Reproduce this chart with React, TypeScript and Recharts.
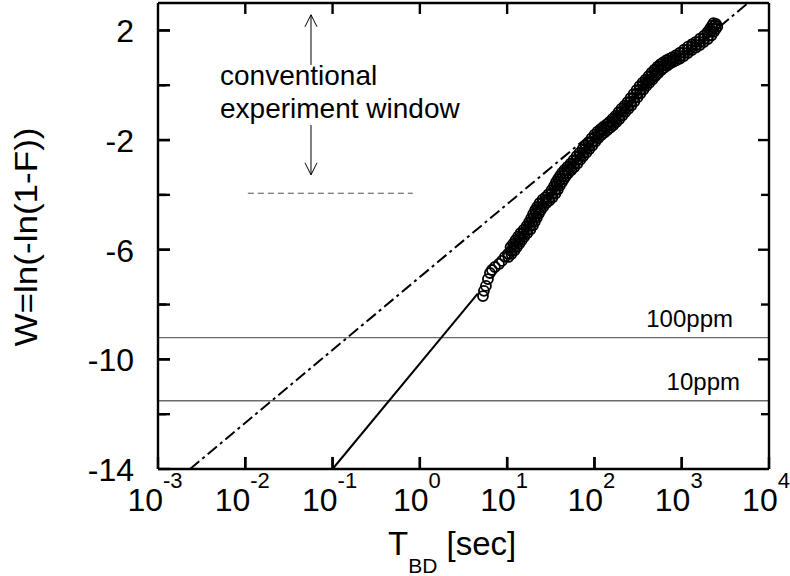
import React from 'react';
import { ScatterChart, Scatter, XAxis, YAxis, ReferenceLine } from 'recharts';

// Breakdown times as log10(T_BD / s), and Weibull W values.
// Block 1: the visible chain; blocks 2 and 3: the dense cloud on either side of it.
const log10TBD = [
  0.723, 0.734, 0.757, 0.78, 0.803, 0.826, 0.86, 0.906, 0.94, 0.975,
  1.009, 1.044, 1.078, 1.101, 1.135, 1.158, 1.192, 1.227, 1.261, 1.284,
  1.307, 1.33, 1.353, 1.376, 1.41, 1.444, 1.479, 1.513, 1.548, 1.57,
  1.593, 1.616, 1.639, 1.662, 1.696, 1.731, 1.765, 1.8, 1.834, 1.868,
  1.903, 1.937, 1.971, 2.006, 2.04, 2.074, 2.109, 2.143, 2.178, 2.212,
  2.246, 2.281, 2.315, 2.349, 2.384, 2.418, 2.452, 2.487, 2.521, 2.556,
  2.59, 2.624, 2.659, 2.693, 2.727, 2.762, 2.796, 2.83, 2.865, 2.899,
  2.934, 2.979, 3.025, 3.071, 3.117, 3.163, 3.208, 3.254, 3.3, 3.334,
  3.357, 3.38, 3.392,
  1.014, 1.049, 1.083, 1.112, 1.14, 1.169, 1.197, 1.232, 1.266, 1.295,
  1.318, 1.341, 1.364, 1.387, 1.415, 1.449, 1.484, 1.518, 1.553, 1.581,
  1.604, 1.627, 1.65, 1.673, 1.701, 1.736, 1.77, 1.805, 1.839, 1.873,
  1.908, 1.942, 1.976, 2.011, 2.045, 2.079, 2.114, 2.148, 2.183, 2.217,
  2.251, 2.286, 2.32, 2.354, 2.389, 2.423, 2.457, 2.492, 2.526, 2.561,
  2.595, 2.629, 2.664, 2.698, 2.732, 2.767, 2.801, 2.835, 2.87, 2.904,
  2.939, 2.979, 3.024, 3.07, 3.116, 3.162, 3.208, 3.253, 3.299, 3.339,
  3.368, 3.391, 3.408,
  1.039, 1.068, 1.096, 1.125, 1.153, 1.188, 1.222, 1.251, 1.274, 1.297,
  1.32, 1.343, 1.371, 1.405, 1.44, 1.474, 1.509, 1.537, 1.56, 1.583,
  1.606, 1.629, 1.657, 1.692, 1.726, 1.761, 1.795, 1.829, 1.864, 1.898,
  1.932, 1.967, 2.001, 2.035, 2.07, 2.104, 2.139, 2.173, 2.207, 2.242,
  2.276, 2.31, 2.345, 2.379, 2.413, 2.448, 2.482, 2.517, 2.551, 2.585,
  2.62, 2.654, 2.688, 2.723, 2.757, 2.791, 2.826, 2.86, 2.895, 2.935,
  2.98, 3.026, 3.072, 3.118, 3.164, 3.209, 3.255, 3.295, 3.324, 3.347,
  3.364,
];
const weibullW = [
  -7.69, -7.5, -7.32, -7.07, -6.85, -6.74, -6.63, -6.52, -6.41, -6.26,
  -6.15, -6.04, -5.9, -5.79, -5.64, -5.53, -5.39, -5.28, -5.13, -4.99,
  -4.84, -4.69, -4.55, -4.44, -4.29, -4.18, -4.11, -3.96, -3.82, -3.67,
  -3.53, -3.42, -3.31, -3.2, -3.09, -2.98, -2.87, -2.72, -2.58, -2.47,
  -2.32, -2.21, -2.07, -1.92, -1.81, -1.7, -1.63, -1.52, -1.45, -1.34,
  -1.23, -1.12, -0.97, -0.86, -0.75, -0.61, -0.46, -0.31, -0.17, -0.02,
  0.09, 0.2, 0.34, 0.45, 0.56, 0.67, 0.74, 0.82, 0.89, 0.93,
  1.0, 1.07, 1.18, 1.29, 1.4, 1.47, 1.58, 1.69, 1.8, 1.95,
  2.06, 2.17, 2.24,
  -6.265, -6.155, -6.03, -5.905, -5.775, -5.645, -5.52, -5.395, -5.265, -5.12,
  -4.975, -4.825, -4.68, -4.555, -4.425, -4.295, -4.205, -4.095, -3.95, -3.805,
  -3.66, -3.535, -3.425, -3.315, -3.205, -3.095, -2.985, -2.855, -2.71, -2.585,
  -2.455, -2.325, -2.2, -2.055, -1.925, -1.815, -1.725, -1.635, -1.545, -1.455,
  -1.345, -1.235, -1.105, -0.975, -0.865, -0.74, -0.595, -0.445, -0.3, -0.155,
  -0.025, 0.085, 0.21, 0.335, 0.445, 0.555, 0.645, 0.72, 0.795, 0.85,
  0.905, 0.975, 1.065, 1.175, 1.285, 1.375, 1.465, 1.575, 1.685, 1.815,
  1.945, 2.055, 2.145,
  -5.91, -5.785, -5.655, -5.525, -5.4, -5.275, -5.145, -5.0, -4.855, -4.705,
  -4.56, -4.435, -4.305, -4.175, -4.085, -3.975, -3.83, -3.685, -3.54, -3.415,
  -3.305, -3.195, -3.085, -2.975, -2.865, -2.735, -2.59, -2.465, -2.335, -2.205,
  -2.08, -1.935, -1.805, -1.695, -1.605, -1.515, -1.425, -1.335, -1.225, -1.115,
  -0.985, -0.855, -0.745, -0.62, -0.475, -0.325, -0.18, -0.035, 0.095, 0.205,
  0.33, 0.455, 0.565, 0.675, 0.765, 0.84, 0.915, 0.97, 1.025, 1.095,
  1.185, 1.295, 1.405, 1.495, 1.585, 1.695, 1.805, 1.935, 2.065, 2.175,
  2.265,
];

const xTicks = [0.001, 0.01, 0.1, 1, 10, 100, 1000, 10000];
const xTickExponents = ['-3', '-2', '-1', '0', '1', '2', '3', '4'];
const yTicks = [-14, -12, -10, -8, -6, -4, -2, 0, 2];
const yTickLabels = ['-14', '', '-10', '', '-6', '', '-2', '', '2'];
const xDomain = [0.001, 10000];
const yDomain = [-14, 3];

const ppmW = [-9.21, -11.51];
const ppmLabels = ['100ppm', '10ppm'];

const dashDotFit = [{ t: 0.00233, w: -14 }, { t: 5740, w: 3 }];
const solidFit = [{ t: 0.1, w: -14 }, { t: 4.6, w: -7.6 }];
const windowLine = [{ t: 0.0107, w: -3.94 }, { t: 0.83, w: -3.94 }];
const arrowT = 0.0566;
const arrowUp = [0.74, 2.57];
const arrowDown = [-1.45, -3.27];

const FONT = 'Liberation Sans, Arial, Helvetica, sans-serif';
const FRAME_W = 2.4;

// tick-mark lengths, expressed in axis units (W units for x ticks, decades for y ticks)
const X_TICK_BOTTOM = 0.44;
const X_TICK_TOP = 0.4;
const Y_TICK_MAJOR_L = 0.137;
const Y_TICK_MAJOR_R = 0.126;
const Y_TICK_MINOR = 0.092;

const data = log10TBD.map((lt, i) => ({ t: Math.pow(10, lt), w: weibullW[i] }));

const tickSegments: { key: string; seg: { x: number; y: number }[] }[] = [];
xTicks.slice(1, -1).forEach((t) => {
  tickSegments.push({ key: 'b' + t, seg: [{ x: t, y: yDomain[0] }, { x: t, y: yDomain[0] + X_TICK_BOTTOM }] });
  tickSegments.push({ key: 't' + t, seg: [{ x: t, y: yDomain[1] }, { x: t, y: yDomain[1] - X_TICK_TOP }] });
});
yTicks.slice(1).forEach((w, i) => {
  const major = !!yTickLabels[i + 1];
  const l = major ? Y_TICK_MAJOR_L : Y_TICK_MINOR;
  const r = major ? Y_TICK_MAJOR_R : Y_TICK_MINOR;
  tickSegments.push({ key: 'l' + w, seg: [{ x: xDomain[0], y: w }, { x: xDomain[0] * Math.pow(10, l), y: w }] });
  tickSegments.push({ key: 'r' + w, seg: [{ x: xDomain[1], y: w }, { x: xDomain[1] / Math.pow(10, r), y: w }] });
});

const XTickLabel = (p: any) => {
  const cx = p.payload.coordinate;
  const idx = xTicks.indexOf(p.payload.value);
  return (
    <text x={cx - 3} y={p.y + 42} textAnchor="middle" fontFamily={FONT} fontSize={32} fill="#000">
      10<tspan fontSize={22} dy={-23}>{xTickExponents[idx]}</tspan>
    </text>
  );
};

const YTickLabel = (p: any) => {
  const cy = p.payload.coordinate;
  const idx = yTicks.indexOf(p.payload.value);
  const label = yTickLabels[idx];
  return (
    <text x={p.x - 24} y={cy + 12} textAnchor="end" fontFamily={FONT} fontSize={32} fill="#000">
      {label}
    </text>
  );
};

const Circle = (p: any) => (
  <circle cx={p.cx} cy={p.cy} r={5} fill="none" stroke="#000" strokeWidth={1.8} />
);

const ArrowShape = (p: any) => {
  const { x1, y1, x2, y2 } = p;
  const dir = y2 < y1 ? 1 : -1; // tip at (x2,y2)
  return (
    <g>
      <line x1={x1} y1={y1} x2={x2} y2={y2} stroke="#000" strokeWidth={1} />
      <path
        d={`M${x2 - 6},${y2 + dir * 12} L${x2},${y2} L${x2 + 6},${y2 + dir * 12}`}
        fill="none"
        stroke="#000"
        strokeWidth={1}
      />
    </g>
  );
};

const ppmLabelOffsets = [36, 29];
const tickLineStyle = { stroke: '#000', strokeWidth: FRAME_W };

export default function App() {
  return (
    <div style={{ position: 'absolute', left: 0, top: 0, width: 790, height: 576, background: '#fff' }}>
      <ScatterChart width={790} height={576} margin={{ top: 3, right: 21, bottom: 0, left: 0 }}>
        <XAxis
          dataKey="t"
          type="number"
          scale="log"
          domain={xDomain}
          ticks={xTicks}
          interval={0}
          allowDataOverflow
          height={107}
          tickSize={-12}
          tickMargin={12}
          tickLine={tickLineStyle}
          axisLine={false}
          tick={(p: any) => <XTickLabel {...p} />}
        />
        <XAxis
          xAxisId="top"
          orientation="top"
          type="number"
          scale="log"
          domain={xDomain}
          ticks={xTicks}
          interval={0}
          allowDataOverflow
          height={0}
          tickSize={-11}
          tickLine={tickLineStyle}
          axisLine={false}
          tick={false}
        />
        <YAxis
          dataKey="w"
          type="number"
          domain={yDomain}
          ticks={yTicks}
          interval={0}
          allowDataOverflow
          width={158}
          tickSize={-12}
          tickMargin={12}
          tickLine={tickLineStyle}
          axisLine={false}
          tick={(p: any) => <YTickLabel {...p} />}
        />
        <YAxis
          yAxisId="right"
          orientation="right"
          type="number"
          domain={yDomain}
          ticks={yTicks}
          interval={0}
          allowDataOverflow
          width={0}
          tickSize={-11}
          tickLine={tickLineStyle}
          axisLine={false}
          tick={false}
        />
        {ppmW.map((w, i) => (
          <ReferenceLine
            key={ppmLabels[i]}
            y={w}
            stroke="#6a6a6a"
            strokeWidth={1.3}
            label={(lp: any) => (
              <text
                x={lp.viewBox.x + lp.viewBox.width - ppmLabelOffsets[i]}
                y={lp.viewBox.y - 11}
                textAnchor="end"
                fontFamily={FONT}
                fontSize={24}
                fill="#000"
              >
                {ppmLabels[i]}
              </text>
            )}
          />
        ))}
        <ReferenceLine
          segment={[{ x: windowLine[0].t, y: windowLine[0].w }, { x: windowLine[1].t, y: windowLine[1].w }]}
          stroke="#555"
          strokeWidth={1}
          strokeDasharray="6 4"
        />
        <ReferenceLine
          segment={[{ x: dashDotFit[0].t, y: dashDotFit[0].w }, { x: dashDotFit[1].t, y: dashDotFit[1].w }]}
          stroke="#000"
          strokeWidth={2}
          strokeDasharray="12 4 3 4"
        />
        <ReferenceLine
          segment={[{ x: solidFit[0].t, y: solidFit[0].w }, { x: solidFit[1].t, y: solidFit[1].w }]}
          stroke="#000"
          strokeWidth={2}
        />
        <ReferenceLine
          segment={[{ x: arrowT, y: arrowUp[0] }, { x: arrowT, y: arrowUp[1] }]}
          shape={(p: any) => <ArrowShape {...p} />}
        />
        <ReferenceLine
          segment={[{ x: arrowT, y: arrowDown[0] }, { x: arrowT, y: arrowDown[1] }]}
          shape={(p: any) => <ArrowShape {...p} />}
        />
        <Scatter data={data} shape={(p: any) => <Circle {...p} />} isAnimationActive={false} />
        {tickSegments.map((s) => (
          <ReferenceLine key={s.key} segment={s.seg} stroke="#000" strokeWidth={FRAME_W} />
        ))}
        <ReferenceLine
          segment={[{ x: xDomain[0], y: yDomain[0] }, { x: xDomain[0], y: yDomain[1] }]}
          stroke="#000"
          strokeWidth={FRAME_W}
        />
        <ReferenceLine
          segment={[{ x: xDomain[1], y: yDomain[0] }, { x: xDomain[1], y: yDomain[1] }]}
          stroke="#000"
          strokeWidth={FRAME_W}
        />
        <ReferenceLine
          segment={[{ x: xDomain[0], y: yDomain[0] }, { x: xDomain[1], y: yDomain[0] }]}
          stroke="#000"
          strokeWidth={FRAME_W}
        />
        <ReferenceLine
          segment={[{ x: xDomain[0], y: yDomain[1] }, { x: xDomain[1], y: yDomain[1] }]}
          stroke="#000"
          strokeWidth={FRAME_W}
        />
        <text x={220} y={85} fontFamily={FONT} fontSize={28} fill="#000">conventional</text>
        <text x={220} y={118} fontFamily={FONT} fontSize={28} fill="#000">experiment window</text>
        <text
          x={37}
          y={237}
          transform="rotate(-90 37 237)"
          textAnchor="middle"
          textLength={219}
          lengthAdjust="spacingAndGlyphs"
          fontFamily={FONT}
          fontSize={32}
          fill="#000"
        >
          W=ln(-ln(1-F))
        </text>
        <text x={388} y={555} fontFamily={FONT} fontSize={33} fill="#000">
          T<tspan fontSize={21} dy={18}>BD</tspan><tspan dy={-18}> [sec]</tspan>
        </text>
      </ScatterChart>
    </div>
  );
}
